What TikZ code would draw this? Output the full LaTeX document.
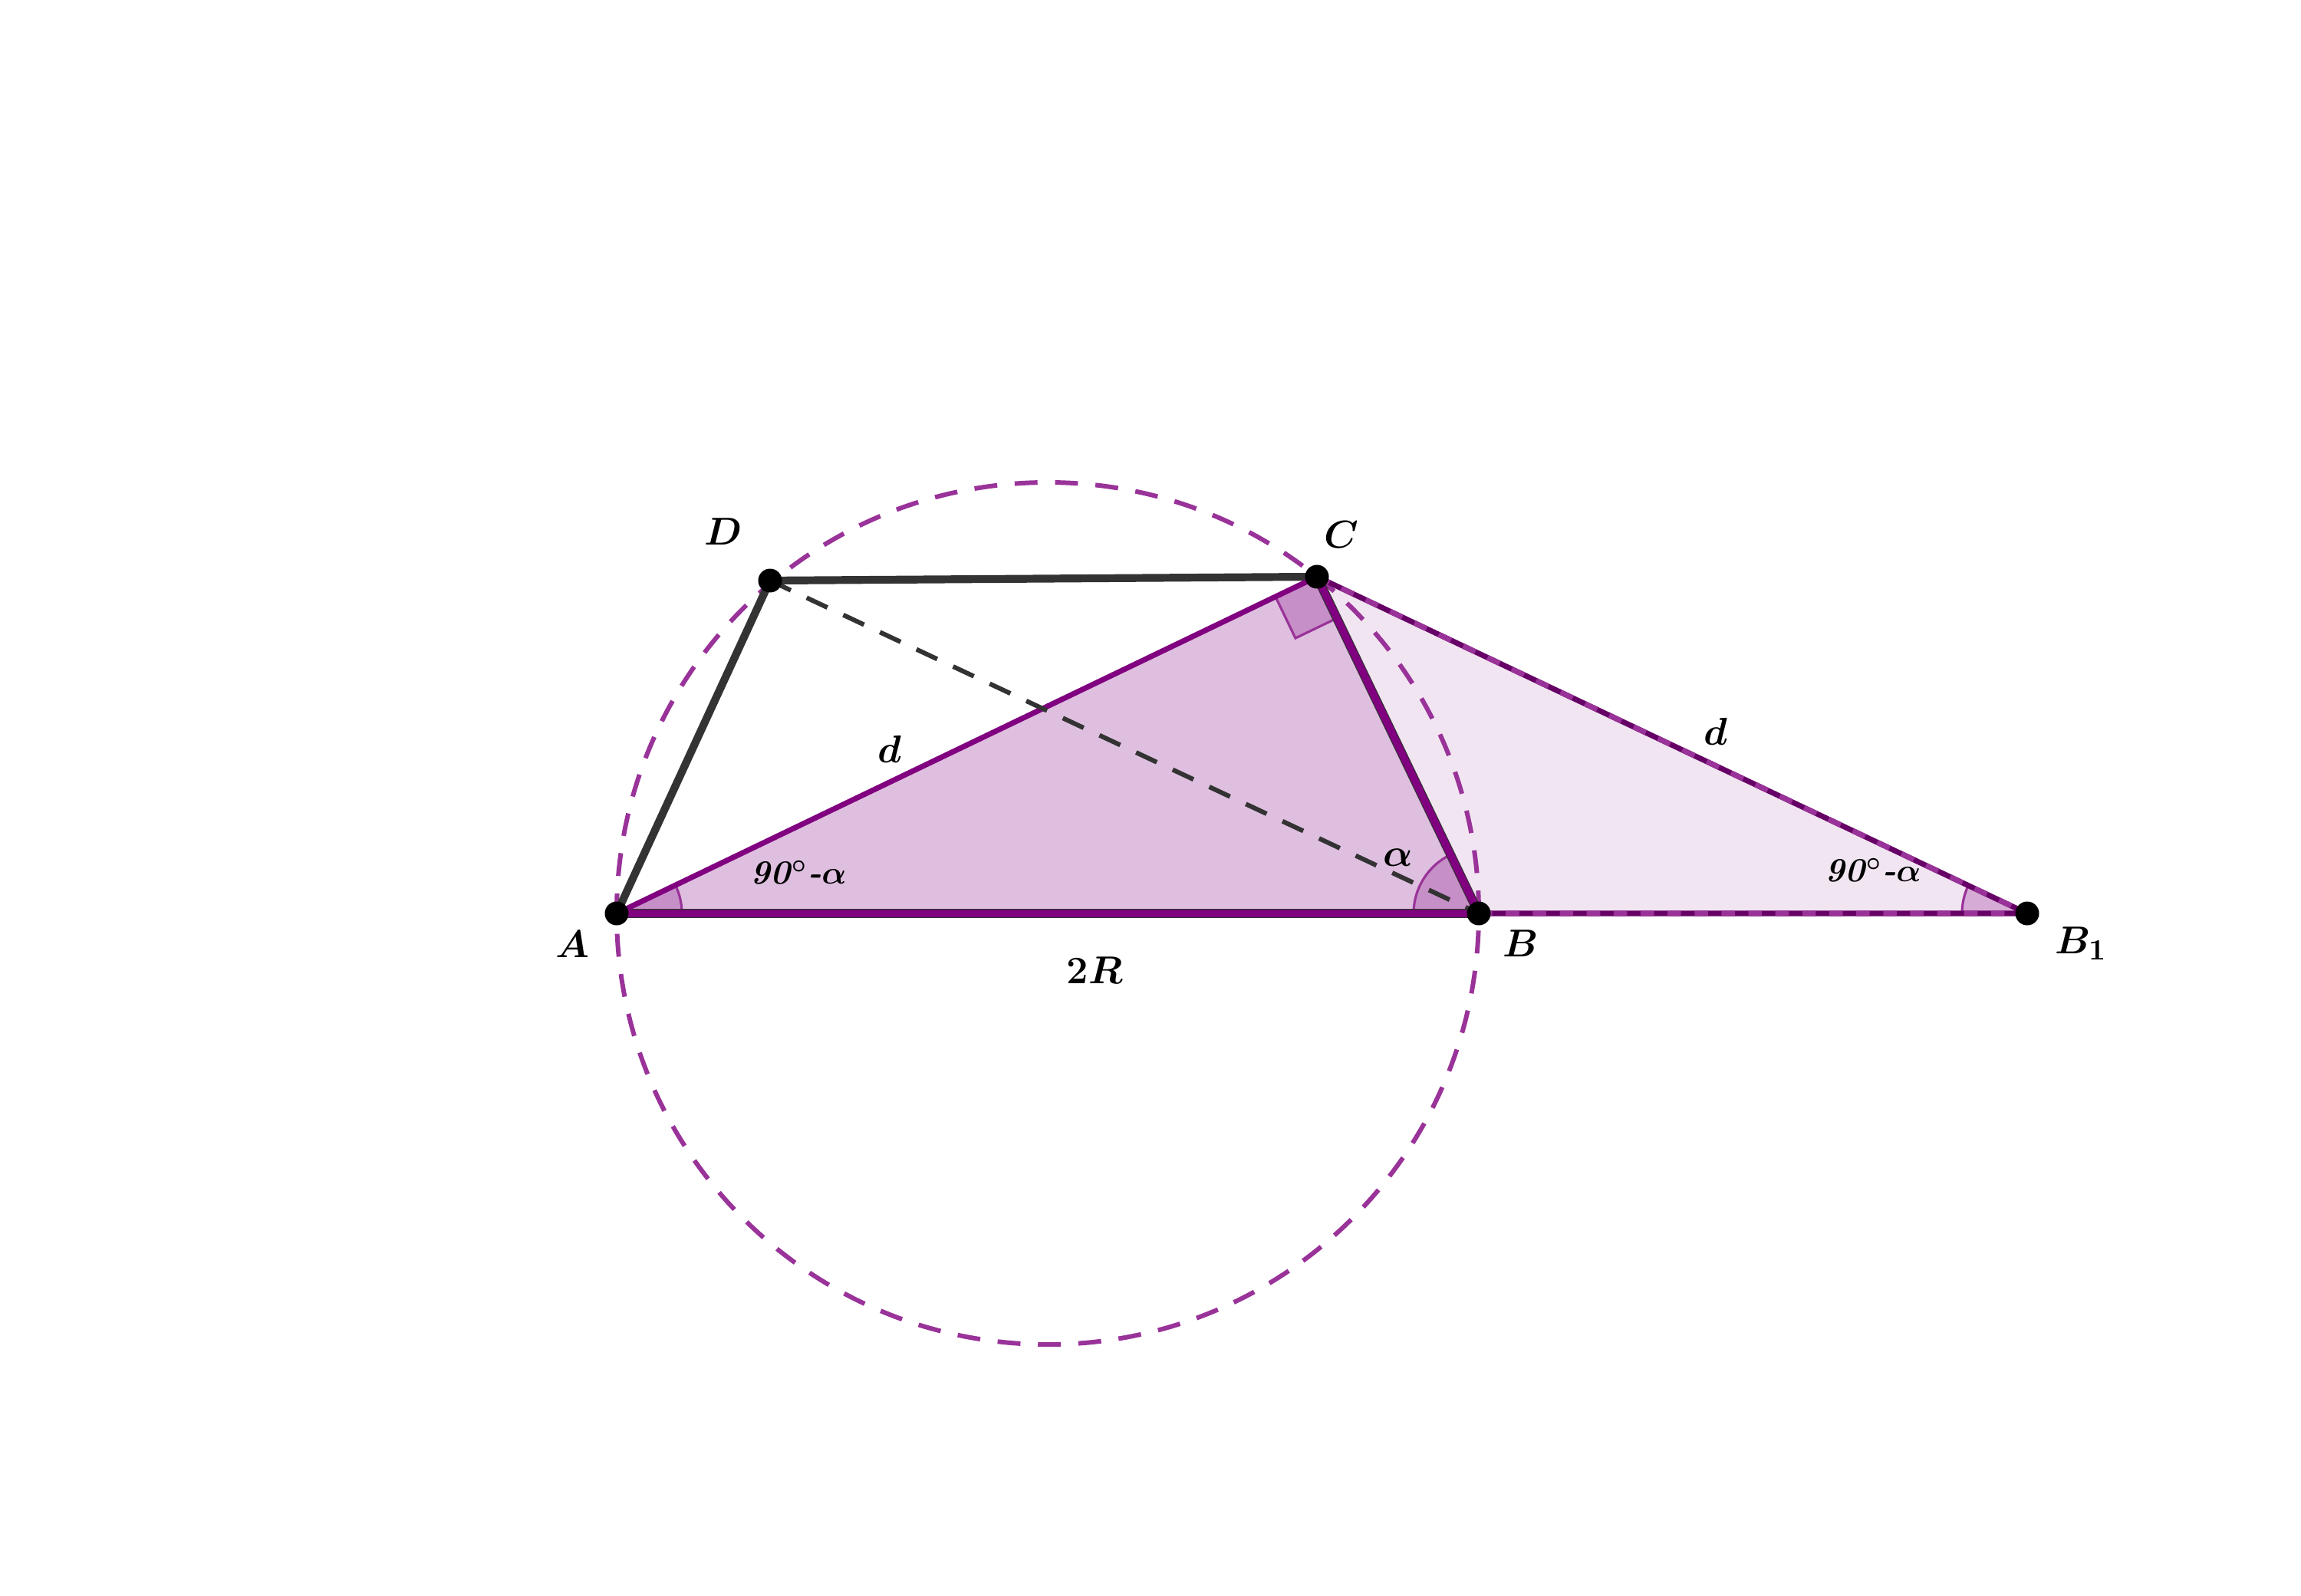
\documentclass[tikz,border=0pt]{standalone}
\usepackage{amsmath,bm}
\usetikzlibrary{calc}
\definecolor{geopurple}{HTML}{800080}
\definecolor{circpurple}{HTML}{993399}
\definecolor{darkpurple}{HTML}{660066}
\definecolor{edgegray}{HTML}{333333}
\begin{document}
\begin{tikzpicture}[
    labelfont/.style={font=\fontsize{15.5}{18}\selectfont},
    anglefont/.style={font=\fontsize{12.5}{15}\selectfont},
    ptdot/.style={circle, fill=black, inner sep=0pt, minimum size=0.31cm},
    quadedge/.style={edgegray, line width=2.9pt},
    anglefill/.style={fill=geopurple, fill opacity=0.25, draw=circpurple, line width=0.9pt}
  ]
  \useasboundingbox (0,0) rectangle (30,20.8);
  % points
  \coordinate (O) at (13.66,8.89);
  \coordinate (A) at (8.04,8.89);
  \coordinate (B) at (19.28,8.89);
  \coordinate (C) at (17.17,13.28);
  \coordinate (D) at (10.04,13.23);
  \coordinate (B1) at (26.43,8.89);
  % triangles
  \fill[geopurple, opacity=0.25] (A) -- (B) -- (C) -- cycle;
  \fill[geopurple, opacity=0.1] (C) -- (B) -- (B1) -- cycle;
  % angles
  \draw[anglefill] (A) -- ++(0:0.85) arc[start angle=0, end angle=25.68, radius=0.85] -- cycle;
  \draw[anglefill] (B) -- ++(115.67:0.85) arc[start angle=115.67, end angle=180, radius=0.85] -- cycle;
  \draw[anglefill] (B1) -- ++(154.63:0.85) arc[start angle=154.63, end angle=180, radius=0.85] -- cycle;
  \coordinate (ca) at ($(C)!0.6cm!(A)$);
  \coordinate (cb) at ($(C)!0.6cm!(B)$);
  \draw[anglefill] (C) -- (ca) -- ($(ca)+(cb)-(C)$) -- (cb) -- cycle;
  % circle
  \draw[circpurple, line width=1.7pt, dash pattern=on 8.5pt off 6.5pt] (O) circle (5.62);
  % trapezoid
  \draw[quadedge] (A) -- (D) -- (C);
  \draw[edgegray, line width=3.4pt] (C) -- (B) -- (A);
  \draw[geopurple, line width=2.7pt] (A) -- (B) -- (C);
  \draw[geopurple, line width=2pt] (A) -- (C);
  \draw[edgegray, line width=1.7pt, dash pattern=on 8.5pt off 6.5pt] (D) -- (B);
  % moved diagonal
  \draw[darkpurple, line width=2pt] (C) -- (B1) -- (B);
  \draw[circpurple, line width=2pt, dash pattern=on 5pt off 5pt] (C) -- (B1) -- (B);
  % points (name/x/y/label)
  \foreach \name/\lx/\ly/\txt in {
    A/7.46/8.49/A,
    B/19.83/8.50/B,
    B1/27.13/8.50/B_1,
    C/17.49/13.83/C,
    D/9.43/13.87/D}
  {
    \node[ptdot] (dot\name) at (\name) {};
    \node[labelfont] (lab\name) at (\lx,\ly) {$\bm{\txt}$};
  }
  % lengths and angles
  \node[labelfont] (dAC) at (11.60,11.03) {$\bm{d}$};
  \node[labelfont] (dCB) at (22.37,11.26) {$\bm{d}$};
  \node[labelfont] (diam) at (14.27,8.15) {$\bm{2R}$};
  \node[labelfont] (alphaB) at (18.23,9.62) {$\bm{\alpha}$};
  \node[anglefont] (angA) at (10.41,9.42) {\textbf{\textit{90}}$\bm{^\circ}$\textbf{\textit{-}}$\bm{\alpha}$};
  \node[anglefont] (angB) at (24.42,9.45) {\textbf{\textit{90}}$\bm{^\circ}$\textbf{\textit{-}}$\bm{\alpha}$};
\end{tikzpicture}
\end{document}
